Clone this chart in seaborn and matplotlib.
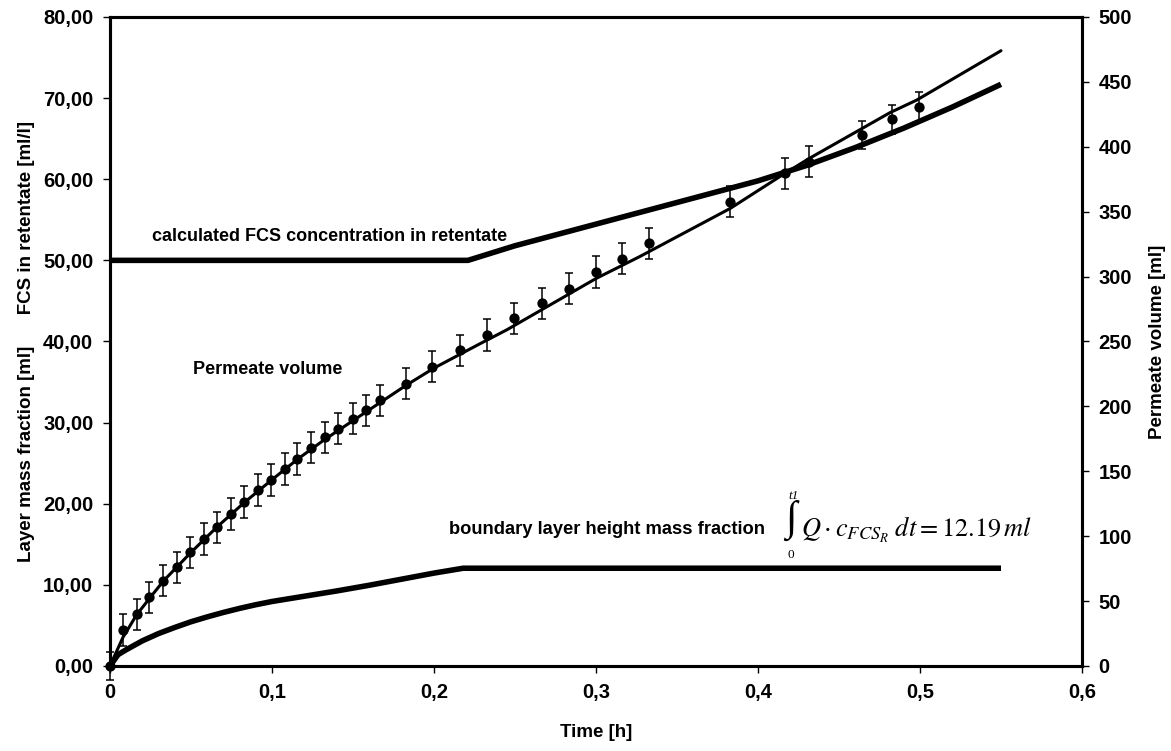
import matplotlib
matplotlib.use("Agg")
import matplotlib.pyplot as plt
import seaborn as sns
import pandas as pd
from matplotlib.ticker import FixedLocator, FixedFormatter

# ---------------- data ----------------
# measured permeate volume [ml] (right axis)
t_meas = [0.0, 0.0081, 0.0165, 0.0243, 0.0329, 0.0411, 0.0497, 0.058, 0.0658,
          0.0746, 0.0827, 0.0915, 0.0993, 0.108, 0.1157, 0.1243, 0.1327, 0.141,
          0.1498, 0.158, 0.1667, 0.1825, 0.199, 0.216, 0.233, 0.2496, 0.2665,
          0.2831, 0.2998, 0.316, 0.3325, 0.3827, 0.4167, 0.4316, 0.464, 0.483,
          0.4996]
v_meas = [0.0, 27.7, 39.8, 52.9, 65.7, 76.0, 87.6, 97.8, 106.9, 117.1, 126.3,
          135.6, 143.3, 151.8, 159.5, 168.0, 176.2, 182.8, 190.5, 197.0, 204.7,
          217.5, 230.4, 243.2, 255.0, 267.9, 279.4, 290.7, 303.5, 313.8, 325.7,
          357.7, 379.6, 388.6, 409.1, 421.2, 431.0]
v_err = [11, 12, 12, 12, 12, 12, 12, 12, 12, 12, 12, 12, 12, 12, 12, 12, 12,
         12, 12, 12, 12, 12, 12, 12, 12, 12, 12, 12, 12, 12, 12, 12, 12, 12,
         11, 11, 11]

# fitted permeate volume line [ml] (right axis)
t_fit = [0.0, 0.008, 0.0165, 0.025, 0.033, 0.05, 0.066, 0.083, 0.1, 0.116,
         0.132, 0.15, 0.1825, 0.2, 0.228, 0.245, 0.3, 0.327, 0.383, 0.4167,
         0.4316, 0.4815, 0.498, 0.55]
v_fit = [0.0, 22.0, 39.5, 53.0, 65.5, 87.5, 107.0, 126.0, 143.5, 159.5,
         174.0, 189.0, 216.0, 229.5, 248.0, 259.0, 298.5, 315.4, 352.6, 379.6,
         391.0, 426.3, 436.0, 474.0]

# calculated FCS concentration in retentate [ml/l] (left axis)
t_fcs = [0.0, 0.221, 0.25, 0.28, 0.31, 0.34, 0.37, 0.40, 0.43, 0.46, 0.49,
         0.52, 0.55]
c_fcs = [50.0, 50.0, 51.8, 53.4, 55.0, 56.6, 58.2, 59.8, 61.7, 63.9, 66.3,
         68.9, 71.7]

# boundary layer height mass fraction [ml] (left axis)
t_bl = [0.0, 0.005, 0.01, 0.02, 0.03, 0.04, 0.05, 0.06, 0.07, 0.08, 0.09,
        0.1, 0.12, 0.14, 0.16, 0.18, 0.2, 0.218, 0.55]
m_bl = [0.0, 1.4, 2.0, 3.1, 4.0, 4.75, 5.45, 6.05, 6.6, 7.1, 7.55, 7.95,
        8.6, 9.25, 9.95, 10.7, 11.45, 12.05, 12.05]

x_ticks = [0, 0.1, 0.2, 0.3, 0.4, 0.5, 0.6]
x_ticklabels = ["0", "0,1", "0,2", "0,3", "0,4", "0,5", "0,6"]
yl_ticks = [0, 10, 20, 30, 40, 50, 60, 70, 80]
yl_ticklabels = ["0,00", "10,00", "20,00", "30,00", "40,00", "50,00",
                 "60,00", "70,00", "80,00"]
yr_ticks = [0, 50, 100, 150, 200, 250, 300, 350, 400, 450, 500]
yr_ticklabels = [str(v) for v in yr_ticks]

# ---------------- style ----------------
sns.set_theme(style="ticks")
plt.rcParams["font.family"] = ["Liberation Sans", "DejaVu Sans"]
for k in ("text.color", "axes.labelcolor", "xtick.color", "ytick.color",
          "axes.edgecolor"):
    plt.rcParams[k] = "black"

FS = 13.5
TFS = 14.5

fig = plt.figure(figsize=(11.71, 7.51), dpi=100)
ax = fig.add_axes([0.0939, 0.1132, 0.8301, 0.8642])
ax2 = ax.twinx()

df_fcs = pd.DataFrame({"t": t_fcs, "c": c_fcs})
df_bl = pd.DataFrame({"t": t_bl, "m": m_bl})
df_fit = pd.DataFrame({"t": t_fit, "v": v_fit})
df_meas = pd.DataFrame({"t": t_meas, "v": v_meas, "e": v_err})

sns.lineplot(data=df_fcs, x="t", y="c", ax=ax, color="black", lw=4.0,
             solid_capstyle="butt")
sns.lineplot(data=df_bl, x="t", y="m", ax=ax, color="black", lw=4.0,
             solid_capstyle="butt")

sns.lineplot(data=df_fit, x="t", y="v", ax=ax2, color="black", lw=2.2)
ax2.errorbar(df_meas["t"], df_meas["v"], yerr=df_meas["e"], fmt="none",
             ecolor="black", elinewidth=1.1, capsize=3, capthick=1.1,
             clip_on=False)
sns.scatterplot(data=df_meas, x="t", y="v", ax=ax2, color="black", s=55,
                edgecolor="black", linewidth=0, zorder=5, clip_on=False)

ax.set_xlim(0, 0.6)
ax.set_ylim(0, 80)
ax2.set_ylim(0, 500)

ax.xaxis.set_major_locator(FixedLocator(x_ticks))
ax.xaxis.set_major_formatter(FixedFormatter(x_ticklabels))
ax.yaxis.set_major_locator(FixedLocator(yl_ticks))
ax.yaxis.set_major_formatter(FixedFormatter(yl_ticklabels))
ax2.yaxis.set_major_locator(FixedLocator(yr_ticks))
ax2.yaxis.set_major_formatter(FixedFormatter(yr_ticklabels))

for a in (ax, ax2):
    for sp in a.spines.values():
        sp.set_visible(True)
        sp.set_linewidth(2.2)
        sp.set_color("black")
    a.tick_params(direction="out", length=5, width=1.0, colors="black",
                  labelsize=TFS, pad=7)
    a.grid(False)
for lab in ax.get_xticklabels() + ax.get_yticklabels() + ax2.get_yticklabels():
    lab.set_fontweight("bold")

ax.set_xlabel("Time [h]", fontsize=FS, fontweight="bold", labelpad=16)
ax.set_ylabel("Layer mass fraction [ml]      FCS in retentate [ml/l]",
              fontsize=FS, fontweight="bold", labelpad=6)
ax2.set_ylabel("Permeate volume [ml]", fontsize=FS, fontweight="bold",
               labelpad=12)

ax.text(0.0262, 53.0, "calculated FCS concentration in retentate",
        fontsize=FS - 0.5, fontweight="bold", va="center", ha="left")
ax.text(0.051, 36.6, "Permeate volume", fontsize=FS - 0.5, fontweight="bold",
        va="center", ha="left")
ax.text(0.2095, 16.8, "boundary layer height mass fraction", fontsize=FS - 0.3,
        fontweight="bold", va="center", ha="left")

# integral expression
ax.text(0.4165, 17.9, "\u222B", fontsize=30, va="center", ha="left",
        family=["Liberation Serif", "DejaVu Serif"])
ax.text(0.4185, 21.0, "t1", fontsize=9.5, va="center", ha="left",
        family=["Liberation Serif", "DejaVu Serif"], style="italic")
ax.text(0.4185, 13.7, "0", fontsize=9.5, va="center", ha="left",
        family=["Liberation Serif", "DejaVu Serif"])
ax.text(0.4265, 16.8, r"$Q\cdot c_{FCS_R}\;dt = 12.19\,ml$", fontsize=19,
        va="center", ha="left", math_fontfamily="stix")

fig.savefig("out.png", dpi=100)
